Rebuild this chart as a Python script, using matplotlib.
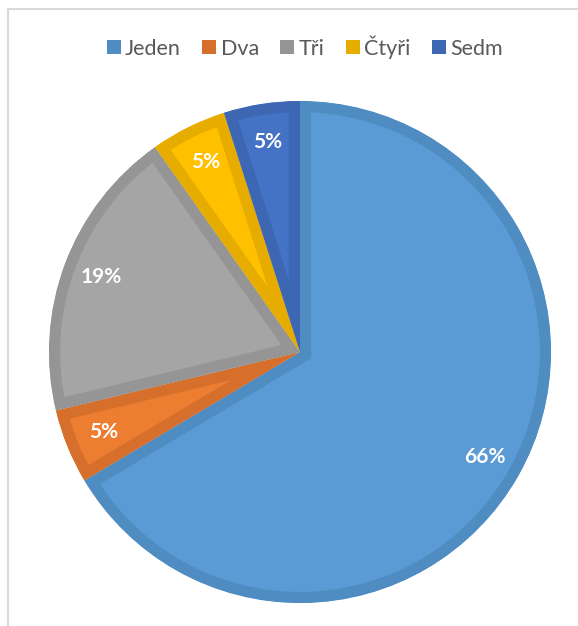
import numpy as np
import matplotlib
matplotlib.use("Agg")
import matplotlib.pyplot as plt
from matplotlib.patches import Patch
from matplotlib.lines import Line2D

# data
labels = ["Jeden", "Dva", "Tři", "Čtyři", "Sedm"]
shares = [66.45, 4.8, 18.95, 4.9, 4.9]
fills = ["#5B9BD5", "#ED7D31", "#A5A5A5", "#FFC000", "#4472C4"]
edges = ["#4F8CC2", "#D56F2B", "#959595", "#E6AD00", "#3D67B3"]

plt.rcParams['font.family'] = ['Lato', 'DejaVu Sans']

W, H = 578, 626
fig = plt.figure(figsize=(W / 100, H / 100), dpi=100)
fig.set_facecolor("white")

# chart area frame (only top and left are visible)
fig.add_artist(Line2D([8 / W, 1], [1 - 9 / H, 1 - 9 / H], color="#D9D9D9", lw=1.5))
fig.add_artist(Line2D([8 / W, 8 / W], [0, 1 - 9 / H], color="#D9D9D9", lw=1.5))

ax = fig.add_axes([0, 0, 1, 1])
cx, cy, r = 300, H - 352, 251
wedges, texts, autotexts = ax.pie(
    shares, colors=fills, startangle=90, counterclock=False,
    center=(cx, cy), radius=r, explode=[0.012] * len(shares),
    autopct="%1.0f%%", pctdistance=0.845,
    textprops=dict(color="white", fontsize=15, fontweight="bold"),
    frame=True)
for w, ec in zip(wedges, edges):
    w.set_edgecolor(ec)
    w.set_linewidth(16)
    w.set_clip_on(True)
    w.set_clip_path(w)
ax.set_xlim(0, W)
ax.set_ylim(0, H)
ax.set_aspect("equal")
ax.axis("off")

handles = [Patch(facecolor=c, edgecolor="none") for c in edges]
fig.legend(handles, labels, loc="center", bbox_to_anchor=(305 / W, 1 - 47 / H),
           ncol=5, frameon=False, fontsize=15.5, labelcolor="#595959",
           handlelength=0.65, handleheight=0.65, handletextpad=0.2,
           columnspacing=1.0)

fig.savefig("out.png", dpi=100, facecolor="white")
